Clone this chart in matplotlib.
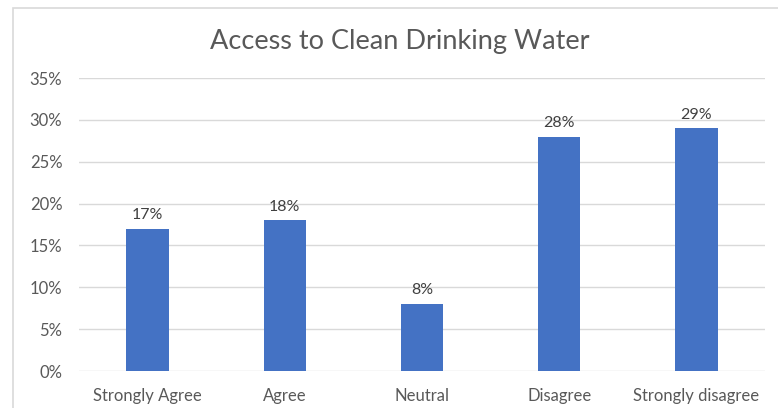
import matplotlib.pyplot as plt
from matplotlib.patches import Rectangle
from matplotlib.ticker import PercentFormatter

categories = ["Strongly Agree", "Agree", "Neutral", "Disagree", "Strongly disagree"]
shares = [0.17, 0.18, 0.08, 0.28, 0.29]
yticks = [0, 0.05, 0.10, 0.15, 0.20, 0.25, 0.30, 0.35]

plt.rcParams["font.family"] = ["Lato", "DejaVu Sans"]
grey = "#595959"

fig = plt.figure(figsize=(7.78, 4.08), dpi=100)
fig.patches.append(Rectangle((13 / 778, -0.1), 1.1, 1.1 - 8 / 408,
                             transform=fig.transFigure, fill=False,
                             edgecolor="#D9D9D9", linewidth=1.2))

ax = fig.add_axes([79 / 778, 1 - 371 / 408, (765 - 79) / 778, (371 - 78) / 408])
x = range(len(categories))
bars = ax.bar(x, shares, width=0.31, color="#4472C4", zorder=3)

for rect, v in zip(bars, shares):
    ax.text(rect.get_x() + rect.get_width() / 2, v + 0.008, f"{v:.0%}",
            ha="center", va="bottom", fontsize=11.5, color="#404040")

ax.set_xlim(-0.5, len(categories) - 0.5)
ax.set_ylim(0, 0.35)
ax.set_yticks(yticks)
ax.yaxis.set_major_formatter(PercentFormatter(1.0, decimals=0))
ax.set_xticks(list(x))
ax.set_xticklabels(categories)
ax.tick_params(axis="both", length=0, labelsize=12, labelcolor=grey)
ax.tick_params(axis="y", pad=12)
ax.tick_params(axis="x", pad=12)
ax.grid(axis="y", color="#D9D9D9", linewidth=1, zorder=0)
for s in ax.spines.values():
    s.set_visible(False)

fig.text(400 / 778, 1 - 42 / 408, "Access to Clean Drinking Water",
         ha="center", va="center", fontsize=19.5, color=grey)

fig.savefig("out.png", dpi=100)
